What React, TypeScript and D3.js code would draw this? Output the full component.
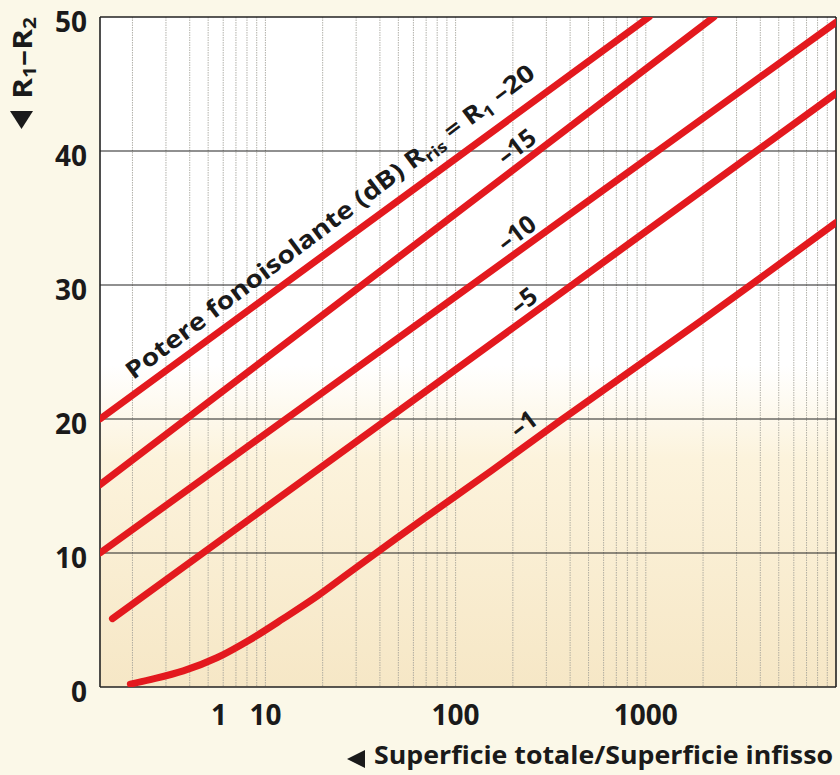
import React from 'react';
import * as d3 from 'd3';

// values
const yTicks = [0, 10, 20, 30, 40, 50];
const xTickValues = [5.7, 10, 100, 1000];
const xTickLabels = ['1', '10', '100', '1000'];

const seriesNames = ['–20', '–15', '–10', '–5', '–1'];
const line20: [number, number][] = [[1.35, 20], [1040, 50]];
const line15: [number, number][] = [[1.35, 15.1], [2280, 50]];
const line10: [number, number][] = [[1.35, 10], [10000, 49.6]];
const line5: [number, number][] = [[1.57, 5.1], [10000, 44.3]];
const line1: [number, number][] = [
  [1.95, 0.22], [2.48, 0.55], [3.7, 1.2], [5.59, 2.2], [8.34, 3.55],
  [12.4, 5.1], [18.8, 6.8], [28, 8.6], [65.5, 12.4], [153, 16.1],
  [357, 19.9], [1945, 27.3], [10000, 34.65],
];
const series = [line20, line15, line10, line5, line1];

// where the small curve labels sit (data coords)
const labelTexts = ['–15', '–10', '–5', '–1'];
const labelAnchors: [number, number][] = [[207, 40.4], [207, 33.96], [225, 28.9], [225, 19.7]];
const titleAnchor: [number, number] = [2.02, 22.9];

const W = 840;
const H = 775;
const padding = { top: 17, right: 4, bottom: 88, left: 100 };
const font = '"Open Sans", "Noto Sans", sans-serif';

const App = () => {
  const x0 = padding.left;
  const x1 = W - padding.right;
  const y0 = H - padding.bottom;
  const y1 = padding.top;

  const x = d3.scaleLog().domain([1.35, 10000]).range([x0, x1]);
  const y = d3.scaleLinear().domain([0, 50]).range([y0, y1]);

  const minor: number[] = [];
  for (let k = 0; k < 4; k++) {
    for (let m = 1; m < 10; m++) {
      const v = m * Math.pow(10, k);
      if (v > 1.35 && v < 10000) minor.push(v);
    }
  }

  const line = d3
    .line<[number, number]>()
    .x(d => x(d[0]))
    .y(d => y(d[1]))
    .curve(d3.curveCatmullRom.alpha(0.5));

  const angle = -37;

  return (
    <svg
      width={W}
      height={H}
      viewBox={`0 0 ${W} ${H}`}
      style={{ position: 'absolute', left: 0, top: 0, background: '#fbf8e8' }}
    >
      <defs>
        <linearGradient id="bg" gradientUnits="userSpaceOnUse" x1={0} y1={y1} x2={0} y2={y0}>
          <stop offset="0" stopColor="#ffffff" />
          <stop offset="0.52" stopColor="#ffffff" />
          <stop offset="0.66" stopColor="#fcf3dc" />
          <stop offset="1" stopColor="#f6e7c6" />
        </linearGradient>
        <clipPath id="plot">
          <rect x={x0} y={y1} width={x1 - x0} height={y0 - y1} />
        </clipPath>
      </defs>

      <rect x={x0} y={y1} width={x1 - x0} height={y0 - y1} fill="url(#bg)" />

      <g className="grid-x">
        {minor.map((v, i) => (
          <line
            key={i}
            x1={x(v)}
            x2={x(v)}
            y1={y1}
            y2={y0}
            stroke="#a09e96"
            strokeWidth={0.8}
            strokeDasharray="1.5 1"
          />
        ))}
      </g>

      <g className="grid-y">
        {yTicks.map(t => (
          <line key={t} x1={x0} x2={x1} y1={y(t)} y2={y(t)} stroke="#222" strokeWidth={t === 0 || t === 50 ? 1.6 : 1.1} />
        ))}
        <line x1={x0} x2={x0} y1={y1} y2={y0} stroke="#222" strokeWidth={1.6} />
        <line x1={x1} x2={x1} y1={y1} y2={y0} stroke="#222" strokeWidth={1.6} />
      </g>

      <g className="data" clipPath="url(#plot)">
        {series.map((s, i) => (
          <path
            key={seriesNames[i]}
            d={line(s) || ''}
            fill="none"
            stroke="#e3191e"
            strokeWidth={7}
            strokeLinecap="round"
          />
        ))}
      </g>

      <g className="labels" fontFamily={font} fontWeight={700} fill="#1a1a1a">
        <text
          transform={`translate(${x(titleAnchor[0])},${y(titleAnchor[1])}) rotate(${angle})`}
          fontSize={24}
          textLength={505}
          lengthAdjust="spacingAndGlyphs"
        >
          Potere fonoisolante (dB) R<tspan fontSize={16} dy={5}>ris</tspan>
          <tspan dy={-5}> = R</tspan><tspan fontSize={16} dy={5}>1</tspan>
          <tspan dy={-5}> {seriesNames[0]}</tspan>
        </text>
        {labelTexts.map((t, i) => (
          <text
            key={t}
            transform={`translate(${x(labelAnchors[i][0])},${y(labelAnchors[i][1])}) rotate(${angle})`}
            fontSize={25}
            textAnchor="middle"
            dominantBaseline="central"
          >
            {t}
          </text>
        ))}
      </g>

      <g className="axis-y" fontFamily={font} fontWeight={700} fill="#1a1a1a" fontSize={28}>
        {yTicks.map(t => (
          <text key={t} x={87} y={y(t) + 15} textAnchor="end">{t}</text>
        ))}
        <path d="M10,111 L33,111 L21.5,129 Z" />
        <text transform="translate(32,99) rotate(-90)" fontSize={26} textLength={82} lengthAdjust="spacingAndGlyphs">
          R<tspan fontSize={17} dy={4}>1</tspan>
          <tspan dy={-4}>–R</tspan><tspan fontSize={17} dy={4}>2</tspan>
        </text>
      </g>

      <g className="axis-x" fontFamily={font} fontWeight={700} fill="#1a1a1a" fontSize={28}>
        {xTickValues.map((v, i) => (
          <text key={i} x={x(v)} y={725} textAnchor="middle">{xTickLabels[i]}</text>
        ))}
        <path d="M347,759 L365,750 L365,768 Z" />
        <text x={374} y={764} fontSize={25} textLength={459} lengthAdjust="spacingAndGlyphs">
          Superficie totale/Superficie infisso
        </text>
      </g>
    </svg>
  );
};

export default App;
